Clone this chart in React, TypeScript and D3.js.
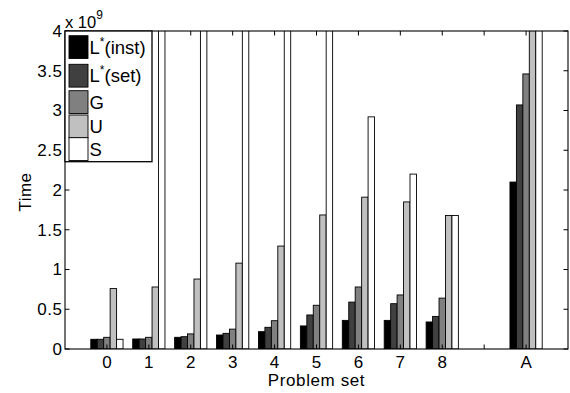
import React from "react";
import * as d3 from "d3";

// ---- data (values in units of 1e9) ----
const categories = ["0", "1", "2", "3", "4", "5", "6", "7", "8", "", "A"];
const seriesNames = ["L*(inst)", "L*(set)", "G", "U", "S"];
const instValues = [0.122, 0.126, 0.147, 0.176, 0.218, 0.29, 0.36, 0.36, 0.34, null, 2.1];
const setValues = [0.122, 0.126, 0.155, 0.197, 0.273, 0.428, 0.59, 0.57, 0.41, null, 3.07];
const gValues = [0.147, 0.147, 0.19, 0.25, 0.356, 0.55, 0.78, 0.68, 0.64, null, 3.46];
const uValues = [0.76, 0.78, 0.88, 1.08, 1.295, 1.686, 1.91, 1.85, 1.68, null, 4.5];
const sValues = [0.122, 4.5, 4.5, 4.5, 4.5, 4.5, 2.92, 2.2, 1.68, null, 4.5];
const yTickValues = [0, 0.5, 1, 1.5, 2, 2.5, 3, 3.5, 4];
const seriesColors = ["#000000", "#404040", "#808080", "#c0c0c0", "#ffffff"];

const allSeries = [instValues, setValues, gValues, uValues, sValues];
const SCALE = 1e9;

const FONT = "'Liberation Sans', Arial, Helvetica, sans-serif";

export default function App() {
  const W = 570;
  const H = 393;
  const left = 65;
  const right = 568;
  const top = 31;
  const bottom = 349;

  const x = d3
    .scaleBand<string>()
    .domain(categories)
    .range([left, right])
    .paddingInner(0)
    .paddingOuter(0.5);
  const y = d3.scaleLinear().domain([0, 4 * SCALE]).range([bottom, top]);

  const nSeries = allSeries.length;
  const groupW = x.step() * (nSeries / (nSeries + 1.5));
  const barW = groupW / nSeries;
  const center = (c: string) => (x(c) as number) + x.bandwidth() / 2;

  const tickLen = 4.5;
  const fs = 17;
  const ls = 0.5;
  const legFs = 18.5;

  const bars: JSX.Element[] = [];
  categories.forEach((c, i) => {
    allSeries.forEach((vals, j) => {
      const v = vals[i];
      if (v == null) return;
      const x0 = center(c) - groupW / 2 + j * barW;
      const yv = y(v * SCALE);
      bars.push(
        <rect
          key={`${i}-${j}`}
          x={x0}
          y={yv}
          width={barW}
          height={y(0) - yv}
          fill={seriesColors[j]}
          stroke="#000"
          strokeWidth={0.9}
        />
      );
    });
  });

  // legend layout
  const legX = left;
  const legY = top;
  const legW = 87;
  const rowH = [28.6, 26.4, 24.3, 22.7, 23];
  const swH = 22.8;
  let acc = legY + 4.7;
  const rows = seriesNames.map((name, j) => {
    const yTop = acc;
    acc += rowH[j];
    return { name, yTop, color: seriesColors[j] };
  });
  const legH = acc - legY + 1;

  return (
    <svg
      width={W}
      height={H}
      style={{ position: "absolute", left: 0, top: 0, background: "#fff" }}
      fontFamily={FONT}
    >
      <rect x={0} y={0} width={W} height={H} fill="#fff" />
      <defs>
        <clipPath id="plotClip">
          <rect x={left} y={top} width={right - left} height={bottom - top} />
        </clipPath>
      </defs>
      <g clipPath="url(#plotClip)">{bars}</g>

      {/* frame */}
      <rect
        x={left}
        y={top}
        width={right - left}
        height={bottom - top}
        fill="none"
        stroke="#000"
        strokeWidth={1.1}
      />

      {/* y ticks */}
      {yTickValues.map((t) => {
        const yy = y(t * SCALE);
        return (
          <g key={`yt${t}`}>
            <line x1={left} x2={left + tickLen} y1={yy} y2={yy} stroke="#000" />
            <line x1={right} x2={right - tickLen} y1={yy} y2={yy} stroke="#000" />
            <text
              x={left - 2.5}
              y={yy}
              dy="0.35em"
              textAnchor="end"
              fontSize={fs}
              letterSpacing={ls}
              fill="#000"
            >
              {String(t)}
            </text>
          </g>
        );
      })}

      {/* x ticks */}
      {categories.map((c) => {
        const xx = center(c);
        return (
          <g key={`xt${c}`}>
            <line x1={xx} x2={xx} y1={bottom} y2={bottom - tickLen} stroke="#000" />
            <line x1={xx} x2={xx} y1={top} y2={top + tickLen} stroke="#000" />
            <text x={xx} y={367.5} textAnchor="middle" fontSize={fs} fill="#000">
              {c}
            </text>
          </g>
        );
      })}

      {/* exponent */}
      <text x={left} y={28} fontSize={16.5} fill="#000">
        x 10
        <tspan fontSize={12} dy={-9}>
          9
        </tspan>
      </text>

      {/* axis titles */}
      <text
        x={(left + right) / 2}
        y={385.5}
        textAnchor="middle"
        fontSize={fs}
        letterSpacing={0.6}
        fill="#000"
      >
        Problem set
      </text>
      <text
        transform={`translate(31,${(top + bottom) / 2 + 2}) rotate(-90)`}
        textAnchor="middle"
        fontSize={fs}
        letterSpacing={ls}
        fill="#000"
      >
        Time
      </text>

      {/* legend */}
      <g>
        <rect
          x={legX}
          y={legY}
          width={legW}
          height={legH}
          fill="#fff"
          stroke="#000"
          strokeWidth={1.3}
        />
        {rows.map((r) => {
          const star = r.name.startsWith("L*");
          const rest = star ? r.name.slice(2) : r.name;
          return (
            <g key={r.name}>
              <rect
                x={legX + 4}
                y={r.yTop}
                width={19}
                height={swH}
                fill={r.color}
                stroke="#000"
                strokeWidth={0.9}
              />
              <text x={legX + 24.5} y={r.yTop + swH / 2 + 6.5} fontSize={legFs} fill="#000">
                {star ? (
                  <>
                    L
                    <tspan fontSize={12} dy={-8}>
                      *
                    </tspan>
                    <tspan dy={8}>{rest}</tspan>
                  </>
                ) : (
                  rest
                )}
              </text>
            </g>
          );
        })}
      </g>
    </svg>
  );
}
